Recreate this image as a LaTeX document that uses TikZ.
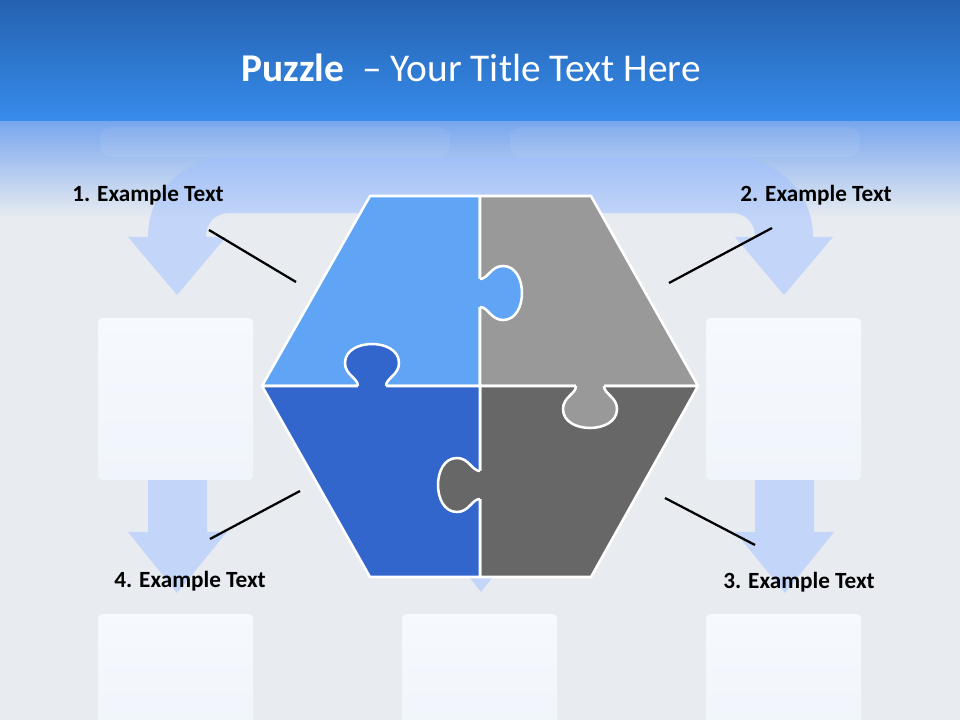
\documentclass[tikz,border=0pt]{standalone}
\usepackage{fontspec}
\setmainfont{Carlito}
\usetikzlibrary{positioning}
\definecolor{bannertop}{HTML}{2462B0}
\definecolor{bannerlow}{HTML}{378CEC}
\definecolor{fadetop}{HTML}{79A7EE}
\definecolor{canvas}{HTML}{E8ECF1}
\definecolor{flow}{HTML}{A0C0FF}
\definecolor{cardtop}{HTML}{F6F9FE}
\definecolor{cardlow}{HTML}{F0F5FB}
\definecolor{pieceA}{HTML}{60A5F5}
\definecolor{pieceB}{HTML}{999999}
\definecolor{pieceC}{HTML}{676767}
\definecolor{pieceD}{HTML}{3366CC}
\tikzset{
  title/.style={font=\fontsize{28}{32}\selectfont,text=white,anchor=base},
  label/.style={font=\bfseries\fontsize{16.5}{19}\selectfont,text=black,anchor=base},
  flowarrow/.style={fill=flow,fill opacity=0.5},
  card/.style={rounded corners=3pt,top color=cardtop,bottom color=cardlow},
  piece/.style={draw=white,line width=1.8pt,line join=round},
  knobline/.style={draw=white,line width=1.8pt},
  leader/.style={draw=black,line width=1.6pt}
}
% puzzle knob: base point, direction, colour
\newcommand{\knob}[4]{%
  \begin{scope}[shift={(#1,#2)},rotate=#3]
    \fill[#4] (-14,-4) -- (-14,0) .. controls (-14,8) and (-27,11) .. (-27,23) .. controls (-27,36) and (-13,42) .. (0,42) .. controls (13,42) and (27,36) .. (27,23) .. controls (27,11) and (14,8) .. (14,0) -- (14,-4) -- cycle;
    \draw[knobline] (-14,0) .. controls (-14,8) and (-27,11) .. (-27,23) .. controls (-27,36) and (-13,42) .. (0,42) .. controls (13,42) and (27,36) .. (27,23) .. controls (27,11) and (14,8) .. (14,0);
  \end{scope}}

\begin{document}
\begin{tikzpicture}[x=0.025cm,y=-0.025cm]
\useasboundingbox (0,0) rectangle (960,720);
\fill[canvas] (0,0) rectangle (960,720);
\shade[top color=bannertop,bottom color=bannerlow] (0,0) rectangle (960,122);
\shade[top color=fadetop,bottom color=canvas] (0,122) rectangle (960,218);
\fill[white,opacity=0.07,rounded corners=8pt] (100,127) rectangle (450,157);
\fill[white,opacity=0.07,rounded corners=8pt] (510,127) rectangle (860,157);

% flow arrows
\path[flowarrow] (232,157) -- (728,157) .. controls (775,157) and (813,190) .. (813,237) -- (833,237) -- (784,295) -- (735,237) -- (755,237) .. controls (755,224) and (747,213) .. (731,213) -- (230,213) .. controls (214,213) and (206,224) .. (206,237) -- (226,237) -- (177,295) -- (128,237) -- (148,237) .. controls (148,190) and (185,157) .. (232,157) -- cycle;
\path[flowarrow] (148,480) -- (207,480) -- (207,532) -- (227,532) -- (177,593) -- (128,532) -- (148,532) -- cycle;
\path[flowarrow] (755,480) -- (814,480) -- (814,532) -- (834,532) -- (785,593) -- (735,532) -- (755,532) -- cycle;
\path[flowarrow] (452,300) -- (510,300) -- (510,530) -- (530,530) -- (481,592) -- (432,530) -- (452,530) -- cycle;

% cards
\path[card] (98,318) rectangle (253,480);
\path[card] (706,318) rectangle (861,480);
\path[card] (98,614) rectangle (253,740);
\path[card] (402,614) rectangle (557,740);
\path[card] (706,614) rectangle (861,740);

% puzzle
\path[piece,fill=pieceA] (370,196) -- (480,196) -- (480,386) -- (262,386) -- cycle;
\path[piece,fill=pieceB] (480,196) -- (591,196) -- (698,386) -- (480,386) -- cycle;
\path[piece,fill=pieceC] (480,386) -- (698,386) -- (591,577) -- (480,577) -- cycle;
\path[piece,fill=pieceD] (262,386) -- (480,386) -- (480,577) -- (370,577) -- cycle;
\knob{372}{386}{180}{pieceD}
\knob{480}{293}{90}{pieceA}
\knob{590}{386}{0}{pieceB}
\knob{480}{485}{-90}{pieceC}

% labels
\node[title] (head) at (471,82) {\textbf{Puzzle}\ \ – Your Title Text Here};
\node[label] (lab1) at (148,202) {1. Example Text};
\node[label] (lab2) at (816,202) {2. Example Text};
\node[label] (lab3) at (799,588) {3. Example Text};
\node[label] (lab4) at (190,587) {4. Example Text};

\coordinate (l1a) at (209,230); \coordinate (l1b) at (296,282);
\coordinate (l2a) at (772,228); \coordinate (l2b) at (669,283);
\coordinate (l3a) at (665,498); \coordinate (l3b) at (755,545);
\coordinate (l4a) at (210,539); \coordinate (l4b) at (300,491);
\draw[leader] (l1a) -- (l1b);
\draw[leader] (l2a) -- (l2b);
\draw[leader] (l3a) -- (l3b);
\draw[leader] (l4a) -- (l4b);
\end{tikzpicture}
\end{document}
